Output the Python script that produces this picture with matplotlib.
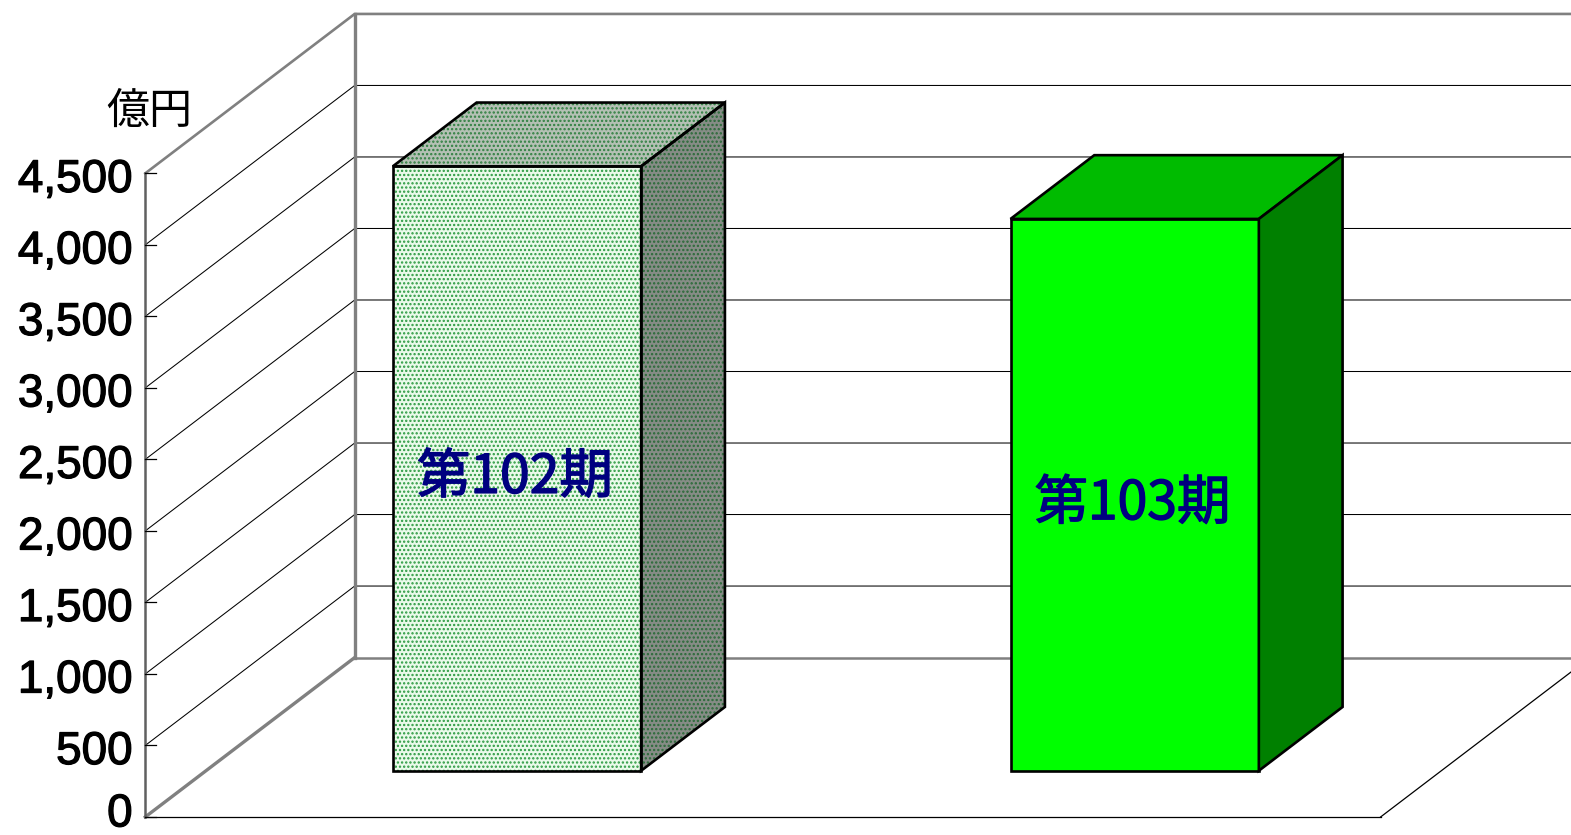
import matplotlib
matplotlib.use("Agg")
import matplotlib.pyplot as plt
from matplotlib.patches import Polygon
import matplotlib.patheffects as pe

plt.rcParams['hatch.linewidth'] = 1.1

categories = ["第102期", "第103期"]
values = [4226, 3858]
ticks = [0, 500, 1000, 1500, 2000, 2500, 3000, 3500, 4000, 4500]
unit_label = "億円"

FONT = ['Noto Sans CJK JP', 'DejaVu Sans']
DX, DY = 0.339, 1114.5      # oblique projection of full depth
BAR_W, D0, D1 = 0.402, 0.29, 0.69
TOP = ticks[-1]

fig = plt.figure(figsize=(15.71, 8.35), dpi=100, facecolor='white')
ax = fig.add_axes([0, 0, 1, 1])
ax.set_xlim(-0.2352, 2.3082)
ax.set_ylim(-126.2, 5712)
ax.axis('off')


def P(x, d, v):
    return (x + DX * d, v + DY * d)


GREY = '#808080'
# floor
ax.plot(*zip(P(0, 0, 0), P(2, 0, 0)), color='black', lw=0.9, zorder=2)
ax.plot(*zip(P(2, 0, 0), P(2, 1, 0)), color='black', lw=0.9, zorder=2)
ax.plot(*zip(P(0, 1, 0), P(2.5, 1, 0)), color=GREY, lw=1.8, zorder=2)
# walls
for t in ticks[1:-1]:
    ax.plot(*zip(P(0, 0, t), P(0, 1, t), P(2.5, 1, t)), color='black', lw=0.75, zorder=1)
ax.plot(*zip(P(0, 0, 0), P(0, 1, 0)), color=GREY, lw=2.4, zorder=2)
ax.plot(*zip(P(0, 0, TOP), P(0, 1, TOP), P(2.5, 1, TOP)), color=GREY, lw=1.9, zorder=2)
ax.plot(*zip(P(0, 1, 0), P(0, 1, TOP)), color=GREY, lw=2.4, zorder=2)
ax.plot(*zip(P(0, 0, 0), P(0, 0, TOP)), color='#606060', lw=1.8, zorder=2)

# ticks and tick labels
for t in ticks:
    ax.plot([0, 0.018], [t, t], color='black', lw=0.9, zorder=3)
    ax.text(-0.0205, max(t - 130, -66), f"{t:,}", ha='right', va='baseline', fontsize=33,
            family='Liberation Sans', color='black', zorder=5,
            path_effects=[pe.withStroke(linewidth=0.9, foreground='black')])

ax.text(0.0765, 4933, unit_label, ha='right', va='center', fontsize=31,
        family=FONT, color='black', zorder=5)

faces = [
    dict(front=('#eafaea', '#2a9a40'), top=('#b4c0b4', '#2f8040'),
         side=('#868c86', '#2a6a38'), hatch='....'),
    dict(front=('#00ff00', None), top=('#00bb00', None),
         side=('#008000', None), hatch=None),
]
for i, (cat, v, f) in enumerate(zip(categories, values, faces)):
    x0, x1 = i + 0.5035 - BAR_W / 2, i + 0.5035 + BAR_W / 2
    polys = [
        ([P(x0, D0, 0), P(x1, D0, 0), P(x1, D0, v), P(x0, D0, v)], f['front']),
        ([P(x0, D0, v), P(x1, D0, v), P(x1, D1, v), P(x0, D1, v)], f['top']),
        ([P(x1, D0, 0), P(x1, D1, 0), P(x1, D1, v), P(x1, D0, v)], f['side']),
    ]
    for pts, (col, hc) in polys:
        if f['hatch']:
            ax.add_patch(Polygon(pts, closed=True, facecolor=col, edgecolor=hc,
                                 hatch=f['hatch'], lw=0, zorder=3))
        ax.add_patch(Polygon(pts, closed=True, facecolor='none' if f['hatch'] else col,
                             edgecolor='black', lw=1.9, zorder=4, joinstyle='miter'))
    cx, cy = P(i + 0.5, D0, v / 2)
    ax.text(cx, cy - 62, cat, ha='center', va='center', fontsize=38.5,
            family=FONT, color='#000080', zorder=6,
            path_effects=[pe.withStroke(linewidth=1.0, foreground='#000080')])

fig.savefig("out.png", dpi=100)
